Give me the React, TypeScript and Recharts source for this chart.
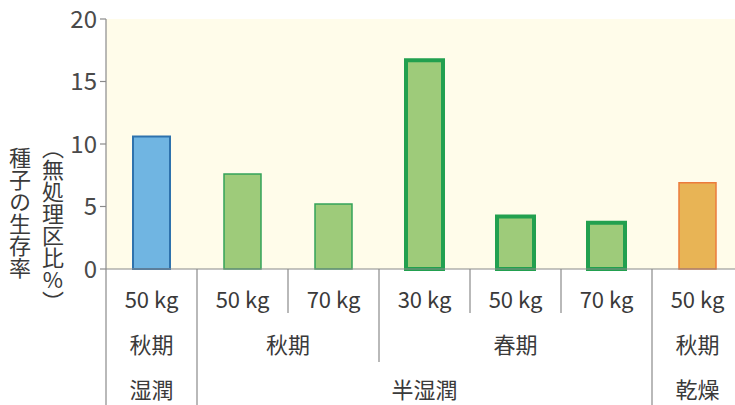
import React from 'react';
import { BarChart, Bar, XAxis, YAxis, CartesianGrid, Cell, Customized } from 'recharts';

const sizes = ['50 kg', '50 kg', '70 kg', '30 kg', '50 kg', '70 kg', '50 kg'];
const seasons = ['秋期', '秋期', '秋期', '春期', '春期', '春期', '秋期'];
const climates = ['湿潤', '半湿潤', '半湿潤', '半湿潤', '半湿潤', '半湿潤', '乾燥'];
const survival = [10.6, 7.6, 5.2, 16.7, 4.2, 3.7, 6.9];
const yTicks = [0, 5, 10, 15, 20];
const yLabelMain = '種子の生存率';
const yLabelSub = '（無処理区比%）';

// bar looks, one per category
const barStyles = [
  { fill: '#70b5e2', stroke: '#2e72ad', width: 2 },
  { fill: '#9ecb7a', stroke: '#35a25a', width: 1.5 },
  { fill: '#9ecb7a', stroke: '#35a25a', width: 1.5 },
  { fill: '#9ecb7a', stroke: '#22a04f', width: 4 },
  { fill: '#9ecb7a', stroke: '#22a04f', width: 4 },
  { fill: '#9ecb7a', stroke: '#22a04f', width: 4 },
  { fill: '#e8b455', stroke: '#ec7b3c', width: 1.5 },
];

const data = sizes.map((size, i) => ({
  key: i,
  size,
  season: seasons[i],
  climate: climates[i],
  value: survival[i],
}));

const FONT = '"Noto Sans CJK JP", "Noto Sans", sans-serif';
const TEXT = '#3a3a3a';
const LINE = '#8a8a8a';
const W = 743;
const H = 405;
const LEFT = 106;
const BAND = (W - LEFT) / data.length;

// start index + length of each run of equal keys
const runs = (keys: string[]) => {
  const out: { start: number; len: number }[] = [];
  keys.forEach((k, i) => {
    if (i > 0 && keys[i - 1] === k) out[out.length - 1].len += 1;
    else out.push({ start: i, len: 1 });
  });
  return out;
};

const seasonRuns = runs(data.map((d) => d.climate + d.season));
const climateRuns = runs(data.map((d) => d.climate));

const CategoryTick = (props: any) => {
  const { x, y, payload } = props;
  const i = payload.index;
  const left = x - BAND / 2;
  let depth = 44;
  if (i === 0 || climates[i] !== climates[i - 1]) depth = H - y;
  else if (seasons[i] !== seasons[i - 1]) depth = 93;
  const sRun = seasonRuns.find((r) => r.start === i);
  const cRun = climateRuns.find((r) => r.start === i);
  return (
    <g>
      <line x1={left} x2={left} y1={y} y2={y + depth} stroke={LINE} strokeWidth={1.2} />
      <text x={x} y={y + 29} textAnchor="middle" dominantBaseline="central" fontSize={22} fill={TEXT} fontFamily={FONT}>
        {sizes[i]}
      </text>
      {sRun && (
        <text x={left + (sRun.len * BAND) / 2} y={y + 74} textAnchor="middle" dominantBaseline="central" fontSize={22} fill={TEXT} fontFamily={FONT}>
          {seasons[i]}
        </text>
      )}
      {cRun && (
        <text x={left + (cRun.len * BAND) / 2} y={y + 119} textAnchor="middle" dominantBaseline="central" fontSize={22} fill={TEXT} fontFamily={FONT}>
          {climates[i]}
        </text>
      )}
    </g>
  );
};

const vertical: React.CSSProperties = {
  writingMode: 'vertical-rl',
  textOrientation: 'upright',
  fontSize: 22,
  fontFamily: FONT,
};

const YLabel = () => (
  <g fill={TEXT}>
    <text x={20} y={147} style={vertical}>{yLabelMain}</text>
    <text x={53} y={137} style={vertical}>{yLabelSub}</text>
  </g>
);

const App: React.FC = () => (
  <div style={{ position: 'absolute', left: 0, top: 0, width: 735, height: 405, overflow: 'hidden', background: '#fff' }}>
    <BarChart width={W} height={H} data={data} margin={{ top: 19, right: 0, bottom: 0, left: 0 }} barCategoryGap={0}>
      <CartesianGrid fill="#fffcea" stroke="none" horizontal={false} vertical={false} />
      <XAxis
        dataKey="key"
        height={136}
        interval={0}
        tickLine={false}
        tickSize={0}
        tickMargin={0}
        axisLine={{ stroke: LINE, strokeWidth: 1.2 }}
        tick={<CategoryTick />}
      />
      <YAxis
        width={LEFT}
        domain={[0, 20]}
        ticks={yTicks}
        tickSize={6}
        tickMargin={3}
        axisLine={{ stroke: LINE, strokeWidth: 1.2 }}
        tickLine={{ stroke: LINE, strokeWidth: 1.2 }}
        tick={{ fontSize: 24, fill: '#4a4a4a', fontFamily: FONT }}
      />
      <Bar dataKey="value" barSize={37} isAnimationActive={false}>
        {data.map((d, i) => (
          <Cell key={d.key} fill={barStyles[i].fill} stroke={barStyles[i].stroke} strokeWidth={barStyles[i].width} />
        ))}
      </Bar>
      <Customized component={YLabel} />
    </BarChart>
  </div>
);

export default App;
